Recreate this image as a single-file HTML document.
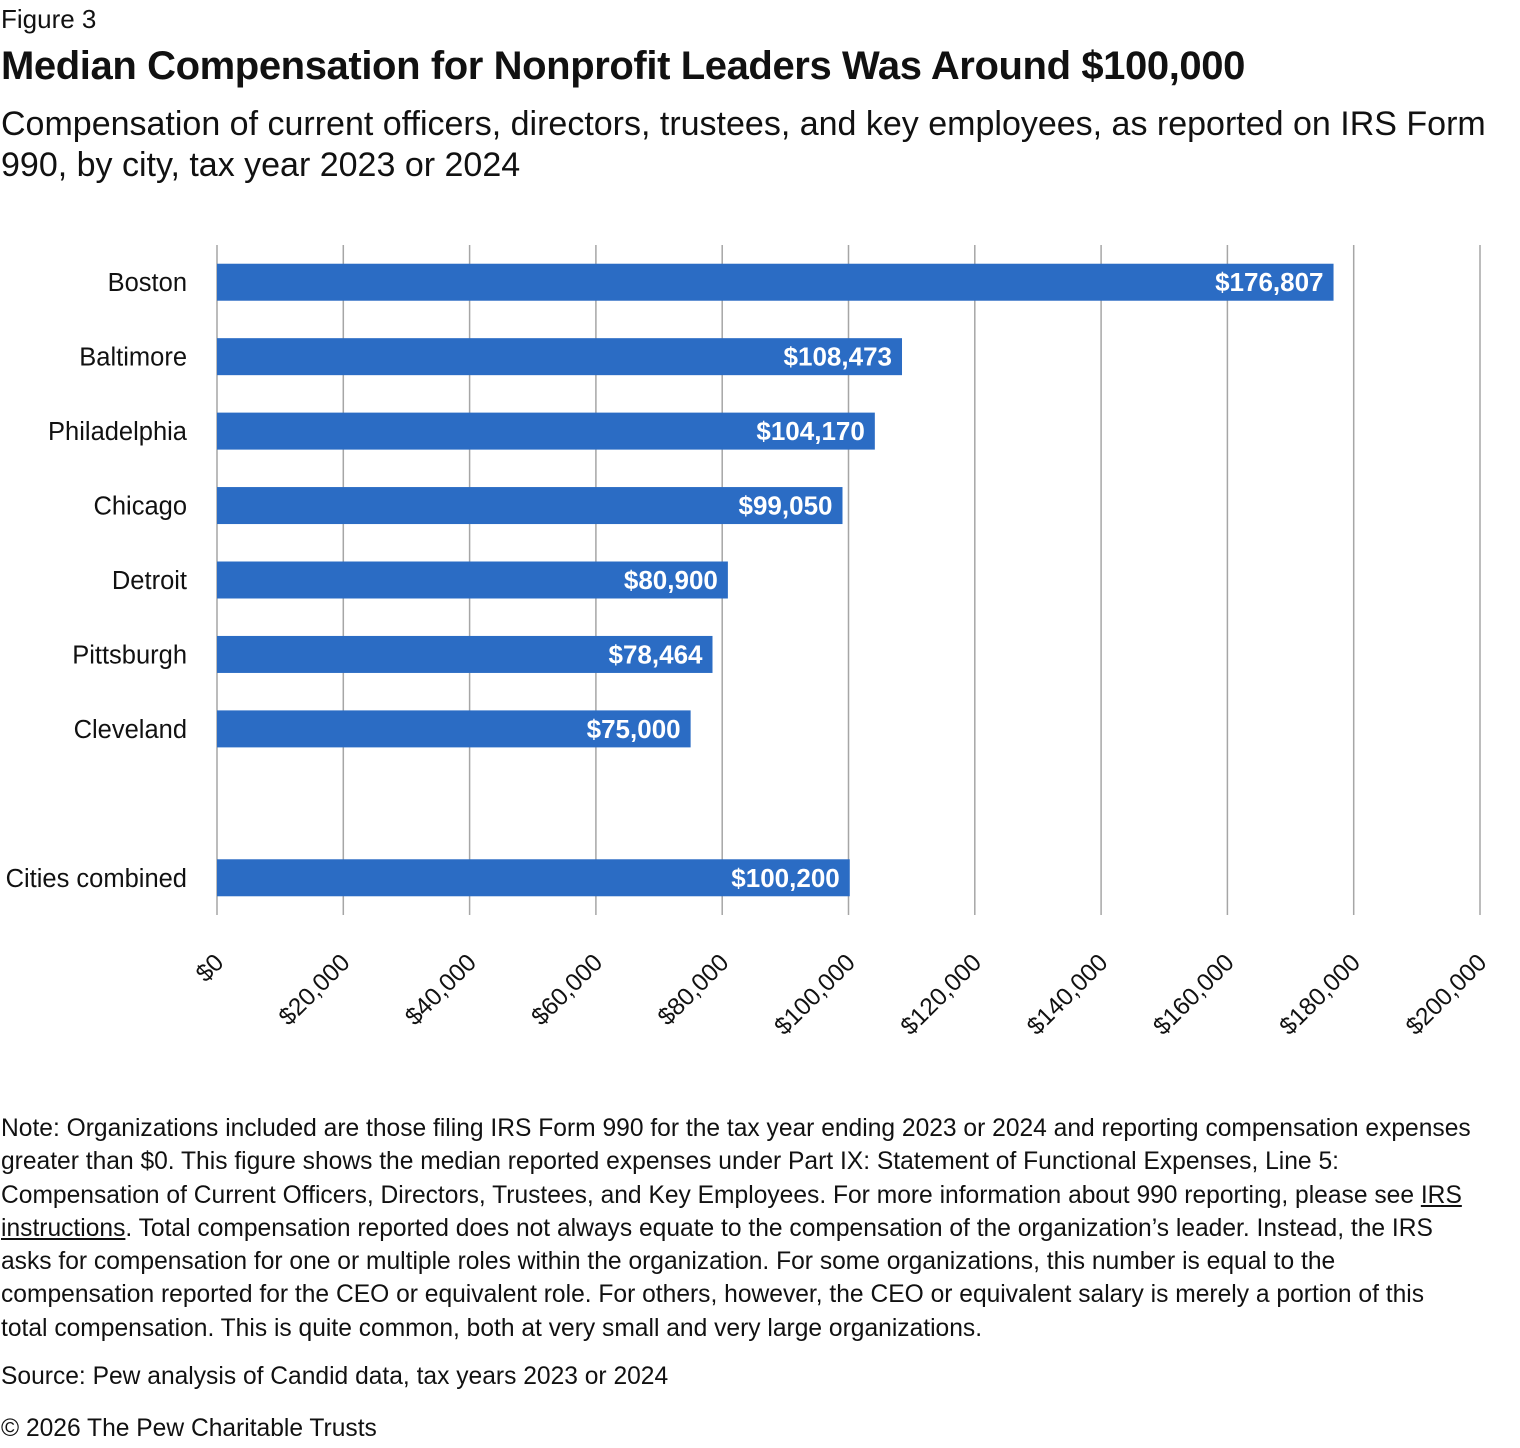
<!DOCTYPE html>
<html><head><meta charset="utf-8"><style>
body{margin:0;width:1520px;height:1448px;background:#fff;font-family:"Liberation Sans",sans-serif;color:#111;position:relative;overflow:hidden}
.abs{position:absolute;left:1px}
#fig{top:4px;font-size:26px}
#title{top:44px;font-size:40px;font-weight:bold;letter-spacing:-0.4px}
#sub{top:104px;font-size:34px;line-height:41px;width:1510px}
#note{top:1112px;font-size:24.6px;line-height:33.3px;width:1530px;white-space:nowrap}
#src{top:1363px;font-size:24.6px}
#copy{top:1415px;font-size:24.6px}
</style></head><body>
<div class="abs" id="fig">Figure 3</div>
<div class="abs" id="title">Median Compensation for Nonprofit Leaders Was Around $100,000</div>
<div class="abs" id="sub">Compensation of current officers, directors, trustees, and key employees, as reported on IRS Form 990, by city, tax year 2023 or 2024</div>
<svg id="chart" width="1520" height="1060" style="position:absolute;left:0;top:0"></svg>
<div class="abs" id="note">Note: Organizations included are those filing IRS Form 990 for the tax year ending 2023 or 2024 and reporting compensation expenses<br>greater than $0. This figure shows the median reported expenses under Part IX: Statement of Functional Expenses, Line 5:<br>Compensation of Current Officers, Directors, Trustees, and Key Employees. For more information about 990 reporting, please see <u>IRS<br>instructions</u>. Total compensation reported does not always equate to the compensation of the organization’s leader. Instead, the IRS<br>asks for compensation for one or multiple roles within the organization. For some organizations, this number is equal to the<br>compensation reported for the CEO or equivalent role. For others, however, the CEO or equivalent salary is merely a portion of this<br>total compensation. This is quite common, both at very small and very large organizations.</div>
<div class="abs" id="src">Source: Pew analysis of Candid data, tax years 2023 or 2024</div>
<div class="abs" id="copy">© 2026 The Pew Charitable Trusts</div>
<script>
const categories=["Boston","Baltimore","Philadelphia","Chicago","Detroit","Pittsburgh","Cleveland","","Cities combined"];
const values=[176807,108473,104170,99050,80900,78464,75000,null,100200];
const valueLabels=["$176,807","$108,473","$104,170","$99,050","$80,900","$78,464","$75,000","","$100,200"];
const ticks=[0,20000,40000,60000,80000,100000,120000,140000,160000,180000,200000];
const tickLabels=["$0","$20,000","$40,000","$60,000","$80,000","$100,000","$120,000","$140,000","$160,000","$180,000","$200,000"];
const NS="http://www.w3.org/2000/svg",svg=document.getElementById('chart');
const x0=217,x1=1480,yTop=245,yBot=915,xmax=200000;
const x=v=>x0+(x1-x0)*v/xmax;
const band=(yBot-yTop)/categories.length;
const yc=i=>yTop+band*(i+0.5);
function mk(t,a){const e=document.createElementNS(NS,t);for(const k in a)e.setAttribute(k,a[k]);svg.appendChild(e);return e;}
ticks.forEach((t,i)=>{
 const g=mk('line',{x1:x(t),x2:x(t),y1:yTop,y2:yBot,stroke:'#a6a6a6','stroke-width':1.5});
 
 
 const tx=x(t)+8,ty=964;
 const l=mk('text',{x:tx,y:ty,'text-anchor':'end','font-size':24.5,fill:'#111',transform:`rotate(-45 ${tx} ${ty})`});
 l.textContent=tickLabels[i];
 
 
});
categories.forEach((c,i)=>{
 if(values[i]==null)return;
 const y=yc(i);
 const r=mk('rect',{x:x0,y:y-18.5,width:x(values[i])-x0,height:37,fill:'#2b6cc4'});
 
 
 const v=mk('text',{x:x(values[i])-10,y:y+9,'text-anchor':'end','font-size':26,'font-weight':'bold',fill:'#fff'});
 v.textContent=valueLabels[i];
 
 
 const t=mk('text',{x:187,y:y+9,'text-anchor':'end','font-size':25.5,fill:'#111'});
 t.textContent=c;
 
 
});
</script>
</body></html>
